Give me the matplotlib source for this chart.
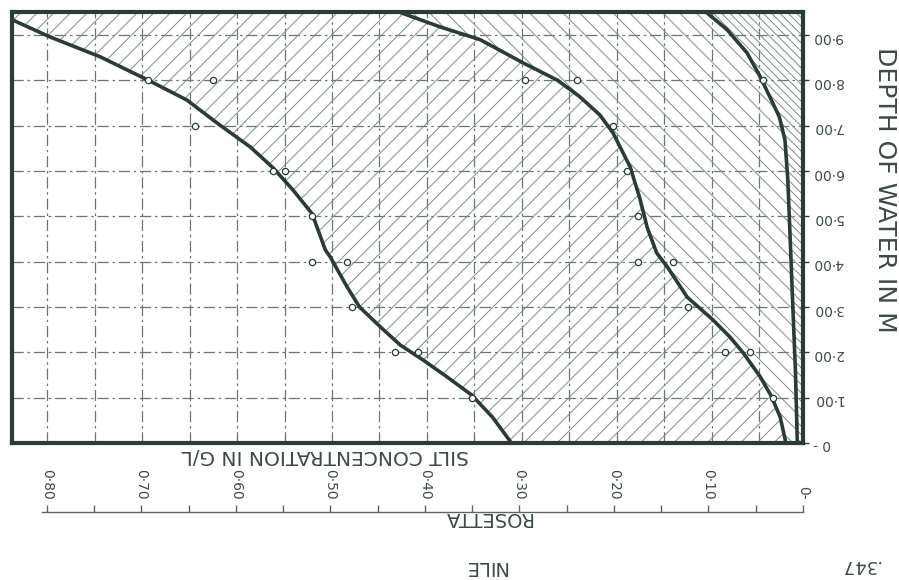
import numpy as np
import matplotlib
matplotlib.use("Agg")
import matplotlib.pyplot as plt

# depth (m) and silt concentration (g/L)
c1_depth = [9.34, 8.96, 8.52, 8.01, 7.57, 7.06, 6.53, 6.07, 5.58, 5.06, 4.26, 4.11,
            3.44, 3.00, 2.56, 2.16, 1.83, 1.46, 1.06, 0.57, 0.0]
c1_conc = [0.837, 0.797, 0.744, 0.694, 0.653, 0.621, 0.586, 0.562, 0.541, 0.521, 0.507, 0.502,
           0.484, 0.471, 0.449, 0.428, 0.404, 0.379, 0.353, 0.331, 0.311]

c2_depth = [9.56, 9.18, 8.90, 8.39, 8.01, 7.64, 7.24, 6.84, 6.09, 5.41, 4.75, 4.19, 3.89,
            3.22, 2.72, 2.34, 1.99, 1.46, 1.02, 0.57, 0.0]
c2_conc = [0.436, 0.386, 0.344, 0.299, 0.263, 0.239, 0.218, 0.204, 0.186, 0.176, 0.168, 0.158, 0.147,
           0.126, 0.099, 0.081, 0.067, 0.049, 0.037, 0.028, 0.022]

c3_depth = [9.56, 9.12, 8.61, 8.08, 7.64, 7.20, 6.69, 5.81, 4.77, 3.16, 1.61, 0.0]
c3_conc = [0.109, 0.084, 0.063, 0.049, 0.039, 0.029, 0.023, 0.020, 0.018, 0.015, 0.012, 0.010]

# measured points (open circles)
pts_conc = [0.694, 0.625, 0.644, 0.562, 0.549, 0.521, 0.521, 0.484, 0.479, 0.434, 0.409, 0.353,
            0.297, 0.242, 0.204, 0.189, 0.178, 0.178, 0.141, 0.125, 0.086, 0.060, 0.036, 0.046]
pts_depth = [8, 8, 7, 6, 6, 5, 4, 4, 3, 2, 2, 1,
             8, 8, 7, 6, 5, 4, 4, 3, 2, 2, 1, 8]

x_major = [0.80, 0.70, 0.60, 0.50, 0.40, 0.30, 0.20, 0.10, 0.0]
x_labels = ["0·80", "0·70", "0·60", "0·50", "0·40", "0·30", "0·20", "0·10", "0-"]
y_ticks = [0, 1, 2, 3, 4, 5, 6, 7, 8, 9]
y_labels = ["0 -", "1·00", "2·00", "3·00", "4·00", "5·00", "6·00", "7·00", "8·00", "9·00"]

INK = "#2b3b38"
GRID = "#6a7673"
HATCH = "#7f8c89"
XL, XR = 0.837, 0.004
YB, YT = 0.0, 9.51

plt.rcParams["hatch.linewidth"] = 0.7

fig = plt.figure(figsize=(8.99, 5.8), dpi=100)
ax = fig.add_axes([12 / 899, 137 / 580, 791 / 899, 431 / 580])
ax.set_xlim(XL, XR)
ax.set_ylim(YB, YT)

# grid
for gx in np.arange(0.05, 0.84, 0.05):
    ax.axvline(gx, color=GRID, lw=0.9, ls=(0, (9, 3, 2, 3)), zorder=1)
for gy in range(1, 10):
    ax.axhline(gy, color=GRID, lw=0.9, ls=(0, (9, 3, 2, 3)), zorder=1)

# hatched zones
ax.fill([XL + 0.01] + c1_conc + c2_conc[::-1], [YT + 0.1] + c1_depth + c2_depth[::-1],
        facecolor="none", edgecolor=HATCH, hatch="//", lw=0, zorder=2)
ax.fill(c2_conc + c3_conc[::-1], c2_depth + c3_depth[::-1],
        facecolor="none", edgecolor=HATCH, hatch="\\\\", lw=0, zorder=2)
ax.fill(c3_conc + [-0.01, -0.01], c3_depth + [0.0, YT + 0.1],
        facecolor="none", edgecolor=HATCH, hatch="\\\\\\\\", lw=0, zorder=2)

# boundary curves
for cx, cy in [(c1_conc, c1_depth), (c2_conc, c2_depth), (c3_conc, c3_depth)]:
    ax.plot(cx, cy, color=INK, lw=2.6, solid_joinstyle="round", solid_capstyle="round", zorder=3)

ax.plot(pts_conc, pts_depth, "o", ms=4.5, mfc="white", mec=INK, mew=0.9, zorder=4)

for s in ax.spines.values():
    s.set_linewidth(3)
    s.set_color(INK)

ax.set_xticks([])
ax.yaxis.set_ticks_position("right")
ax.set_yticks(y_ticks)
ax.set_yticklabels(y_labels, rotation=180, fontsize=10, color="#3d4a48")
ax.tick_params(axis="y", length=4, width=1, color=INK, pad=3)

ax.text(0.396, -0.03, "SILT CONCENTRATION IN G/L", transform=ax.transAxes,
        rotation=180, ha="center", va="center", fontsize=14.5, color="#3d4a48")

# lower concentration scale
ax2 = fig.add_axes([12 / 899, 68 / 580, 791 / 899, 0.001])
ax2.set_xlim(XL, XR)
ax2.set_yticks([])
for side in ["left", "right", "top"]:
    ax2.spines[side].set_visible(False)
ax2.spines["bottom"].set_bounds(0.805, 0.0)
ax2.spines["bottom"].set_color("#5a6663")
ax2.spines["bottom"].set_linewidth(1)
ax2.patch.set_visible(False)
ax2.set_xticks(x_major)
ax2.set_xticklabels(x_labels, rotation=270, fontsize=10, color="#3d4a48")
ax2.set_xticks(np.arange(0.05, 0.8, 0.1), minor=True)
ax2.tick_params(axis="x", which="both", direction="in", length=5, width=1,
                color="#5a6663", pad=-9)
for lab in ax2.get_xticklabels():
    lab.set_va("bottom")

fig.text(0.984, 0.672, "DEPTH OF WATER IN M", rotation=270, ha="center", va="center",
         fontsize=18, color="#3d4a48")
fig.text(0.542, 0.107, "ROSETTA", rotation=180, ha="center", va="center",
         fontsize=14, color="#3d4a48")
fig.text(0.540, 0.024, "NILE", rotation=180, ha="center", va="center",
         fontsize=14, color="#3d4a48")
fig.text(0.957, 0.026, ".347", rotation=180, ha="center", va="center",
         fontsize=13, color="#3d4a48")

fig.savefig("out.png", dpi=100, facecolor="white")
